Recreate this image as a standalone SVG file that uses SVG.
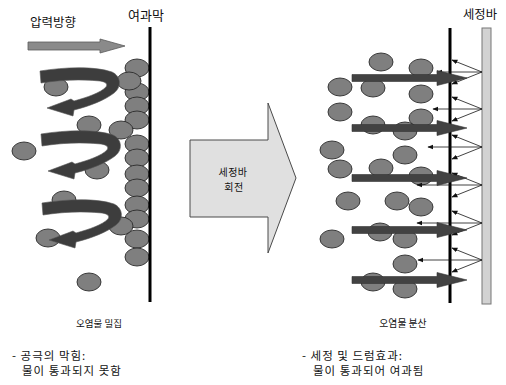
<svg xmlns="http://www.w3.org/2000/svg" width="506" height="385" viewBox="0 0 506 385">
<style>
.t{font-family:"Noto Sans CJK KR","Noto Sans",sans-serif;fill:#111}
.cap{font-size:11.5px;letter-spacing:1px}
.b{fill:#7f7f7f;stroke:#2a2a2a;stroke-width:0.9}
.curl{fill:#3d3d3d;stroke:#555;stroke-width:0.6}
.mem{stroke:#000;stroke-width:3}
.thin{stroke:#111;stroke-width:0.8;fill:none;marker-end:url(#ah)}
.dark{fill:#424242;stroke:#333;stroke-width:0.6}
</style>
<defs>
<marker id="ah" viewBox="0 0 10 10" refX="9" refY="5" markerWidth="6" markerHeight="6" markerUnits="userSpaceOnUse" orient="auto">
<path d="M0,1 L10,5 L0,9 Z" fill="#111"/>
</marker>
<ellipse id="ball" cx="0" cy="0" rx="12" ry="9"/>
<path id="curlp" d="M40,71 C65,67 95,66 112,72 C121,76 122,87 114,93 C105,100 90,106 74,110 L73,116 L47,108 L71,99 L74,101 C88,97 100,93 106,87 C108,84 106,82 100,81 C80,79 60,80 41,83 Z"/>
<polygon id="darr" points="352,-3.5 437,-3.5 437,-7.5 467,0 437,7.5 437,3.5 352,3.5"/>
</defs>

<g id="left-panel">
<text class="t" x="30" y="27" font-size="12.5">압력방향</text>
<text class="t" x="128" y="20" font-size="13">여과막</text>
<polygon id="pressure-arrow" points="28,42 100,42 100,39 125,46 100,53 100,50 28,50" fill="#8a8a8a" stroke="#5a5a5a" stroke-width="0.8"/>
<g id="left-balls" class="b">
<use href="#ball" x="56" y="87"/>
<use href="#ball" x="89" y="125"/>
<use href="#ball" x="24" y="151"/>
<use href="#ball" x="97" y="170"/>
<use href="#ball" x="64" y="200"/>
<use href="#ball" x="48" y="238"/>
<use href="#ball" x="89" y="282"/>
<use href="#ball" x="137" y="68"/>
<use href="#ball" x="137" y="92"/>
<use href="#ball" x="137" y="106"/>
<use href="#ball" x="137" y="120"/>
<use href="#ball" x="137" y="144"/>
<use href="#ball" x="137" y="158"/>
<use href="#ball" x="137" y="174"/>
<use href="#ball" x="137" y="188"/>
<use href="#ball" x="137" y="205"/>
<use href="#ball" x="137" y="219"/>
<use href="#ball" x="137" y="239"/>
<use href="#ball" x="137" y="257"/>
<use href="#ball" x="129" y="81"/>
<use href="#ball" x="121" y="130"/>
<use href="#ball" x="121" y="226"/>
</g>
<line id="left-membrane" class="mem" x1="150" y1="27" x2="150" y2="302"/>
<g id="curls" class="curl">
<use href="#curlp"/>
<use href="#curlp" x="1" y="63"/>
<use href="#curlp" x="2" y="132"/>
</g>
<text class="t" x="99" y="327" font-size="9.5" text-anchor="middle">오염물 밀집</text>
</g>

<g id="rotate-arrow">
<polygon points="190,140 268,140 268,103 296,178 268,253 268,217 190,217" fill="#e0e0e0" stroke="#4a4a4a" stroke-width="1"/>
<text class="t" x="233" y="176" font-size="10" text-anchor="middle" letter-spacing="0.5">세정바</text>
<text class="t" x="234" y="190.5" font-size="10" text-anchor="middle" letter-spacing="0.5">회전</text>
</g>

<g id="right-panel">
<text class="t" x="463" y="19" font-size="12.3">세정바</text>
<rect id="cleaning-bar" x="482" y="28" width="9" height="276" fill="#d2d2d2" stroke="#777" stroke-width="1"/>
<g id="right-balls" class="b">
<use href="#ball" x="381" y="62"/>
<use href="#ball" x="421" y="68"/>
<use href="#ball" x="340" y="87"/>
<use href="#ball" x="373" y="88"/>
<use href="#ball" x="421" y="94"/>
<use href="#ball" x="340" y="112"/>
<use href="#ball" x="373" y="125"/>
<use href="#ball" x="421" y="118"/>
<use href="#ball" x="405" y="131"/>
<use href="#ball" x="332" y="150"/>
<use href="#ball" x="405" y="155"/>
<use href="#ball" x="340" y="169"/>
<use href="#ball" x="381" y="168"/>
<use href="#ball" x="421" y="176"/>
<use href="#ball" x="348" y="201"/>
<use href="#ball" x="397" y="201"/>
<use href="#ball" x="421" y="207"/>
<use href="#ball" x="380" y="232"/>
<use href="#ball" x="332" y="239"/>
<use href="#ball" x="405" y="239"/>
<use href="#ball" x="405" y="264"/>
<use href="#ball" x="373" y="282"/>
<use href="#ball" x="405" y="289"/>
</g>
<line id="right-membrane" class="mem" x1="450" y1="28" x2="450" y2="303"/>
<g id="connectors">
<line class="thin" x1="482" y1="72" x2="452" y2="60"/>
<line class="thin" x1="482" y1="72" x2="437" y2="72"/>
<line class="thin" x1="482" y1="72" x2="452" y2="84"/>
<line class="thin" x1="482" y1="109" x2="452" y2="97"/>
<line class="thin" x1="482" y1="109" x2="433" y2="109"/>
<line class="thin" x1="482" y1="109" x2="452" y2="121"/>
<line class="thin" x1="482" y1="147" x2="452" y2="135"/>
<line class="thin" x1="482" y1="147" x2="428" y2="147"/>
<line class="thin" x1="482" y1="147" x2="452" y2="159"/>
<line class="thin" x1="482" y1="185" x2="452" y2="173"/>
<line class="thin" x1="482" y1="185" x2="417" y2="185"/>
<line class="thin" x1="482" y1="185" x2="452" y2="197"/>
<line class="thin" x1="482" y1="223" x2="452" y2="211"/>
<line class="thin" x1="482" y1="223" x2="417" y2="223"/>
<line class="thin" x1="482" y1="223" x2="452" y2="235"/>
<line class="thin" x1="482" y1="260" x2="452" y2="248"/>
<line class="thin" x1="482" y1="260" x2="418" y2="260"/>
<line class="thin" x1="482" y1="260" x2="452" y2="272"/>
</g>
<g id="flow-arrows" class="dark">
<use href="#darr" y="78"/>
<use href="#darr" y="128"/>
<use href="#darr" y="178"/>
<use href="#darr" y="230"/>
<use href="#darr" y="280"/>
</g>
<text class="t" x="403" y="327" font-size="9.8" text-anchor="middle">오염물 분산</text>
</g>

<g id="captions">
<text class="t cap" x="12" y="359.5">- 공극의 막힘:</text>
<text class="t cap" x="22" y="375">물이 통과되지 못함</text>
<text class="t cap" x="302" y="359.5">- 세정 및 드럼효과:</text>
<text class="t cap" x="313" y="375">물이 통과되어 여과됨</text>
</g>
</svg>
